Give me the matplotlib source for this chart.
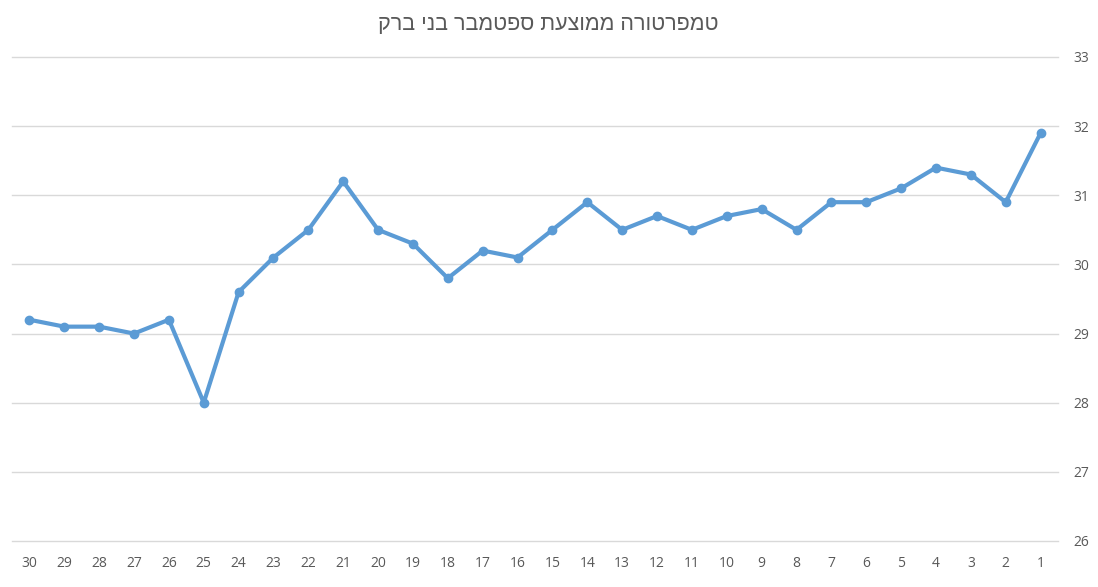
import matplotlib
matplotlib.use("Agg")
import matplotlib.pyplot as plt

plt.rcParams['font.family'] = ['Open Sans', 'DejaVu Sans']

# day of September and mean temperature (Bnei Brak)
days = list(range(30, 0, -1))
temps = [29.2, 29.1, 29.1, 29.0, 29.2, 28.0, 29.6, 30.1, 30.5, 31.2,
         30.5, 30.3, 29.8, 30.2, 30.1, 30.5, 30.9, 30.5, 30.7, 30.5,
         30.7, 30.8, 30.5, 30.9, 30.9, 31.1, 31.4, 31.3, 30.9, 31.9]
yticks = [26, 27, 28, 29, 30, 31, 32, 33]
title = "טמפרטורה ממוצעת ספטמבר בני ברק"

grey = '#595959'

fig = plt.figure(figsize=(10.98, 5.87), dpi=100)
ax = fig.add_axes([0.0109, 0.0784, 0.9527, 0.8245])

x = list(range(len(days)))
ax.plot(x, temps, color='#5B9BD5', linewidth=3, marker='o', markersize=6,
        solid_joinstyle='round', zorder=3)

ax.set_xlim(-0.5, len(days) - 0.5)
ax.set_ylim(26, 33)
ax.set_xticks(x)
ax.set_xticklabels([str(d) for d in days])
ax.set_yticks(yticks)
ax.yaxis.tick_right()
ax.grid(axis='y', color='#D9D9D9', linewidth=1)
for gl in ax.get_ygridlines():
    gl.set_clip_on(False)
ax.set_axisbelow(True)
for s in ax.spines.values():
    s.set_visible(False)
ax.tick_params(axis='both', length=0, labelsize=10, labelcolor=grey)
ax.tick_params(axis='x', pad=11)
ax.tick_params(axis='y', pad=11)

# matplotlib has no bidi support, so Hebrew goes in visual order
fig.text(0.499, 0.958, title[::-1], ha='center', va='center',
         fontsize=15.5, color=grey, family=['Liberation Sans', 'DejaVu Sans'])

fig.savefig('out.png', dpi=100, facecolor='white')
